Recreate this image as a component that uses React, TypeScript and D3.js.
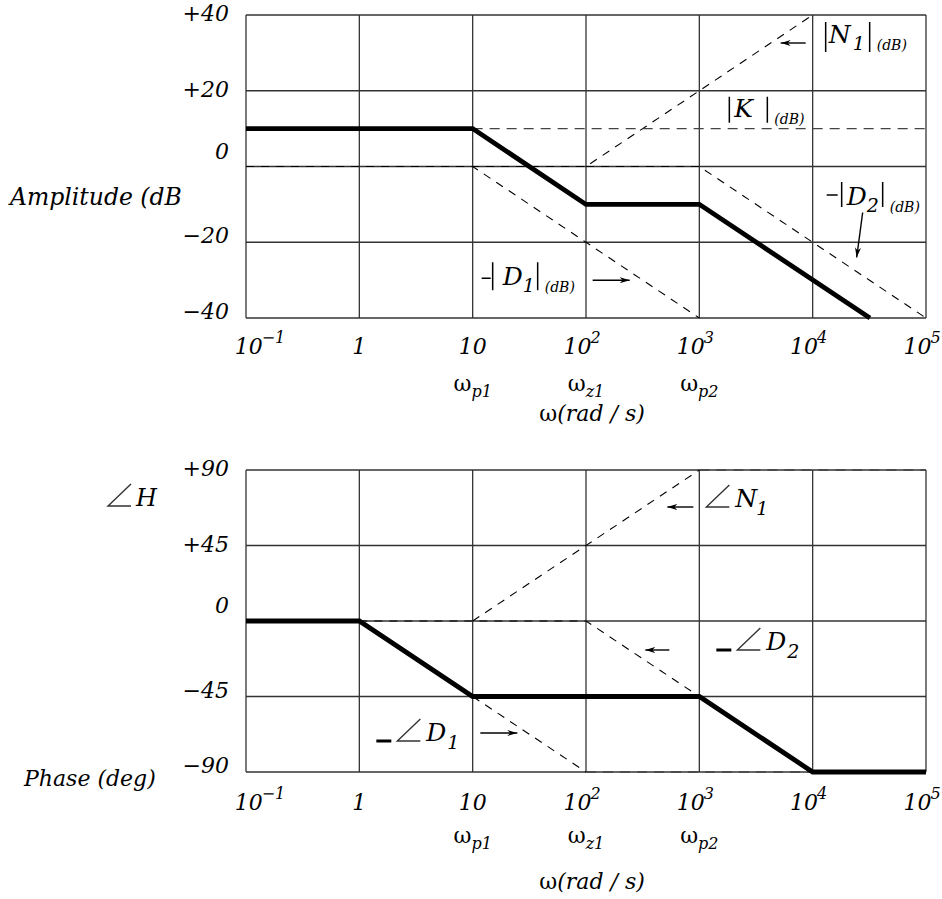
import React from 'react';
import * as d3 from 'd3';

// frequency decades on the x axis and their labels (base, exponent)
const decades = [0.1, 1, 10, 100, 1000, 10000, 100000];
const decadeBase = ['10', '1', '10', '10', '10', '10', '10'];
const decadeExp = ['−1', '', '', '2', '3', '4', '5'];

// corner frequencies
const cornerFreqs = [10, 100, 1000];
const cornerNames = ['p1', 'z1', 'p2'];

// y ticks
const ampTicks = [40, 20, 0, -20, -40];
const ampTickLabels = ['+40', '+20', '0', '−20', '−40'];
const phaseTicks = [90, 45, 0, -45, -90];
const phaseTickLabels = ['+90', '+45', '0', '−45', '−90'];

// amplitude asymptotes: [omega, dB]
const ampTotal: [number, number][] = [[0.1, 10], [10, 10], [100, -10], [1000, -10], [32000, -40]];
const ampK: [number, number][] = [[10, 10], [100000, 10]];
const ampN1: [number, number][] = [[0.1, 0], [100, 0], [10000, 40]];
const ampD1: [number, number][] = [[0.1, 0], [10, 0], [1000, -40]];
const ampD2: [number, number][] = [[100, 0], [1000, 0], [100000, -40]];

// phase asymptotes: [omega, deg]
const phaseTotal: [number, number][] = [[0.1, 0], [1, 0], [10, -45], [1000, -45], [10000, -90], [100000, -90]];
const phaseN1: [number, number][] = [[10, 0], [1000, 90]];
const phaseN1Flat: [number, number][] = [[1000, 90], [100000, 90]];
const phaseD1: [number, number][] = [[10, -45], [100, -90]];
const phaseD1Flat: [number, number][] = [[100, -90], [10000, -90]];
const phaseD2: [number, number][] = [[1, 0], [100, 0], [1000, -45]];

const W = 942;
const H = 899;
const FONT = '"DejaVu Serif", serif';
const GRID = '#333';

const x = d3.scaleLog().domain([0.1, 100000]).range([246, 926]);
const yA = d3.scaleLinear().domain([-40, 40]).range([318, 15]);
const yP = d3.scaleLinear().domain([-90, 90]).range([772, 470]);

// label baseline nudges, like the original hand layout
const labelDy = (v: number) => (v > 0 ? 6 : v === 0 ? -8 : 1);

function Grid({ y, ticks, labels }: { y: d3.ScaleLinear<number, number>; ticks: number[]; labels: string[] }) {
  const [x0, x1] = x.range();
  return (
    <g>
      {decades.map((d) => (
        <line key={'v' + d} x1={x(d)} x2={x(d)} y1={y.range()[1]} y2={y.range()[0]} stroke={GRID} strokeWidth={1.3} />
      ))}
      {ticks.map((t) => (
        <line key={'h' + t} x1={x0} x2={x1} y1={y(t)} y2={y(t)} stroke={GRID} strokeWidth={1.3} />
      ))}
      {ticks.map((t, i) => (
        <text key={'l' + t} x={229} y={y(t) + labelDy(t)} textAnchor="end" fontSize={22} fontStyle="italic" fontFamily={FONT}>
          {labels[i]}
        </text>
      ))}
    </g>
  );
}

function XLabels({ tickY, omegaY, titleY }: { tickY: number; omegaY: number; titleY: number }) {
  const shift = (e: string) => (e === '' ? 0 : e.startsWith('−') ? 14 : -4);
  return (
    <g fontFamily={FONT} fontSize={22} fontStyle="italic">
      {decades.map((d, i) => (
        <text key={d} x={x(d) + shift(decadeExp[i])} y={tickY} textAnchor="middle">
          <tspan>{decadeBase[i]}</tspan>
          {decadeExp[i] && (
            <tspan dx={-1} dy={-11} fontSize={16}>
              {decadeExp[i]}
            </tspan>
          )}
        </text>
      ))}
      {cornerFreqs.map((f, i) => (
        <text key={f} x={x(f)} y={omegaY} textAnchor="middle">
          <tspan fontStyle="normal">ω</tspan>
          <tspan dy={6} fontSize={16}>
            {cornerNames[i]}
          </tspan>
        </text>
      ))}
      <text x={x(100) + 6} y={titleY} textAnchor="middle">
        <tspan fontStyle="normal">ω</tspan>
        <tspan>(rad / s)</tspan>
      </text>
    </g>
  );
}

function Curve({ pts, y, dashed, color = '#000', width = 1.1, dash = '8,7' }: any) {
  const line = d3
    .line<[number, number]>()
    .x((d) => x(d[0]))
    .y((d) => y(d[1]));
  return (
    <path
      d={line(pts) || ''}
      fill="none"
      stroke={color}
      strokeWidth={dashed ? width : 4.8}
      strokeDasharray={dashed ? dash : undefined}
      strokeLinejoin="miter"
    />
  );
}

function Arrow({ x1, y1, x2, y2 }: { x1: number; y1: number; x2: number; y2: number }) {
  return <line x1={x1} y1={y1} x2={x2} y2={y2} stroke="#000" strokeWidth={1.4} markerEnd="url(#arr)" />;
}

function Bar({ at, y1, y2 }: { at: number; y1: number; y2: number }) {
  return <line x1={at} x2={at} y1={y1} y2={y2} stroke="#000" strokeWidth={1.5} />;
}

function Angle({ x0, x1, yt, yb }: { x0: number; x1: number; yt: number; yb: number }) {
  return <path d={`M${x1},${yt}L${x0},${yb}L${x1},${yb}`} fill="none" stroke="#333" strokeWidth={1.4} />;
}

function MagLabel({ tx, ty, sym, sub, parts }: any) {
  // parts: positions of the two bars and text, local coordinates
  const p = parts;
  return (
    <g transform={`translate(${tx},${ty})`} fontFamily={FONT} fontStyle="italic">
      {p.dash && <line x1={p.dash[0]} x2={p.dash[1]} y1={p.dash[2]} y2={p.dash[2]} stroke="#000" strokeWidth={1.5} />}
      <Bar at={p.b1} y1={p.top} y2={p.bot} />
      <text x={p.sx} y={p.base} fontSize={25}>
        {sym}
      </text>
      {sub && (
        <text x={p.subx} y={p.base + 7} fontSize={19}>
          {sub}
        </text>
      )}
      <Bar at={p.b2} y1={p.top} y2={p.bot} />
      <text x={p.b2 + 7} y={p.base + 7} fontSize={14}>
        (dB)
      </text>
    </g>
  );
}

function AngLabel({ tx, ty, sub, minus, name }: any) {
  const o = minus ? 31 : 0;
  return (
    <g transform={`translate(${tx},${ty})`} fontFamily={FONT} fontStyle="italic">
      {minus && <line x1={17} x2={32} y1={0} y2={0} stroke="#000" strokeWidth={3} />}
      <Angle x0={7 + o} x1={30 + o} yt={-22} yb={0} />
      <text x={36 + o} y={0} fontSize={25}>
        {name}
      </text>
      <text x={57 + o} y={8} fontSize={19}>
        {sub}
      </text>
    </g>
  );
}

export default function App() {
  return (
    <div style={{ position: 'absolute', left: 0, top: 0, background: '#fff' }}>
      <svg width={W} height={H} viewBox={`0 0 ${W} ${H}`}>
        <defs>
          <marker id="arr" viewBox="0 0 10 6" refX={10} refY={3} markerWidth={10} markerHeight={6} markerUnits="userSpaceOnUse" orient="auto">
            <path d="M0,0L10,3L0,6L3,3Z" fill="#000" />
          </marker>
        </defs>
        <rect width={W} height={H} fill="#fff" />

        {/* amplitude plot */}
        <Grid y={yA} ticks={ampTicks} labels={ampTickLabels} />
        <Curve pts={ampN1} y={yA} dashed />
        <Curve pts={ampD1} y={yA} dashed />
        <Curve pts={ampD2} y={yA} dashed />
        <Curve pts={ampK} y={yA} dashed color="#444" width={1.4} dash="10,7" />
        <Curve pts={ampTotal} y={yA} />
        <text x={10} y={205} fontFamily={FONT} fontStyle="italic" fontSize={23.5}>
          Amplitude (dB
        </text>
        <XLabels tickY={354} omegaY={391} titleY={421} />

        <MagLabel tx={x(10000)} ty={yA(40)} sym="N" sub="1" parts={{ b1: 13, b2: 57, top: 7, bot: 37, sx: 16, subx: 40, base: 28 }} />
        <Arrow x1={x(10000) - 7} y1={yA(40) + 28} x2={x(10000) - 32} y2={yA(40) + 28} />
        <MagLabel tx={x(1000)} ty={yA(20)} sym="K" parts={{ b1: 30, b2: 68, top: 6, bot: 32, sx: 35, base: 26 }} />
        <MagLabel tx={x(10000)} ty={yA(0)} sym="D" sub="2" parts={{ dash: [14, 25, 28.5], b1: 29, b2: 70, top: 15.5, bot: 40.5, sx: 34, subx: 54, base: 38.5 }} />
        <Arrow x1={x(10000) + 50} y1={yA(0) + 46} x2={x(10000) + 44} y2={yA(0) + 91} />
        <MagLabel tx={x(10)} ty={yA(-20)} sym="D" sub="1" parts={{ dash: [9, 18, 36], b1: 20, b2: 65, top: 20, bot: 48, sx: 30, subx: 50, base: 43 }} />
        <Arrow x1={x(10) + 120} y1={yA(-20) + 38} x2={x(10) + 157} y2={yA(-20) + 38} />

        {/* phase plot */}
        <Grid y={yP} ticks={phaseTicks} labels={phaseTickLabels} />
        <Curve pts={phaseN1} y={yP} dashed />
        <Curve pts={phaseD1} y={yP} dashed />
        <Curve pts={phaseD2} y={yP} dashed />
        <Curve pts={phaseN1Flat} y={yP} dashed color="#444" width={1.4} dash="10,7" />
        <Curve pts={phaseD1Flat} y={yP} dashed color="#444" width={1.4} dash="10,7" />
        <Curve pts={phaseTotal} y={yP} />
        <text x={24} y={786} fontFamily={FONT} fontStyle="italic" fontSize={22}>
          Phase (deg)
        </text>
        <g fontFamily={FONT} fontStyle="italic">
          <Angle x0={108} x1={131} yt={484} yb={506} />
          <text x={136} y={506} fontSize={24}>
            H
          </text>
        </g>
        <XLabels tickY={810} omegaY={843} titleY={889} />

        <AngLabel tx={x(1000)} ty={yP(90) + 37} name="N" sub="1" />
        <Arrow x1={x(1000) - 6} y1={yP(90) + 37} x2={x(1000) - 32} y2={yP(90) + 37} />
        <AngLabel tx={x(1000)} ty={yP(0) + 29} name="D" sub="2" minus />
        <Arrow x1={x(1000) - 30} y1={yP(0) + 29} x2={x(1000) - 54} y2={yP(0) + 29} />
        <AngLabel tx={x(1)} ty={yP(-45) + 44.5} name="D" sub="1" minus />
        <Arrow x1={x(1) + 121} y1={yP(-45) + 36.5} x2={x(1) + 158} y2={yP(-45) + 36.5} />
      </svg>
    </div>
  );
}
